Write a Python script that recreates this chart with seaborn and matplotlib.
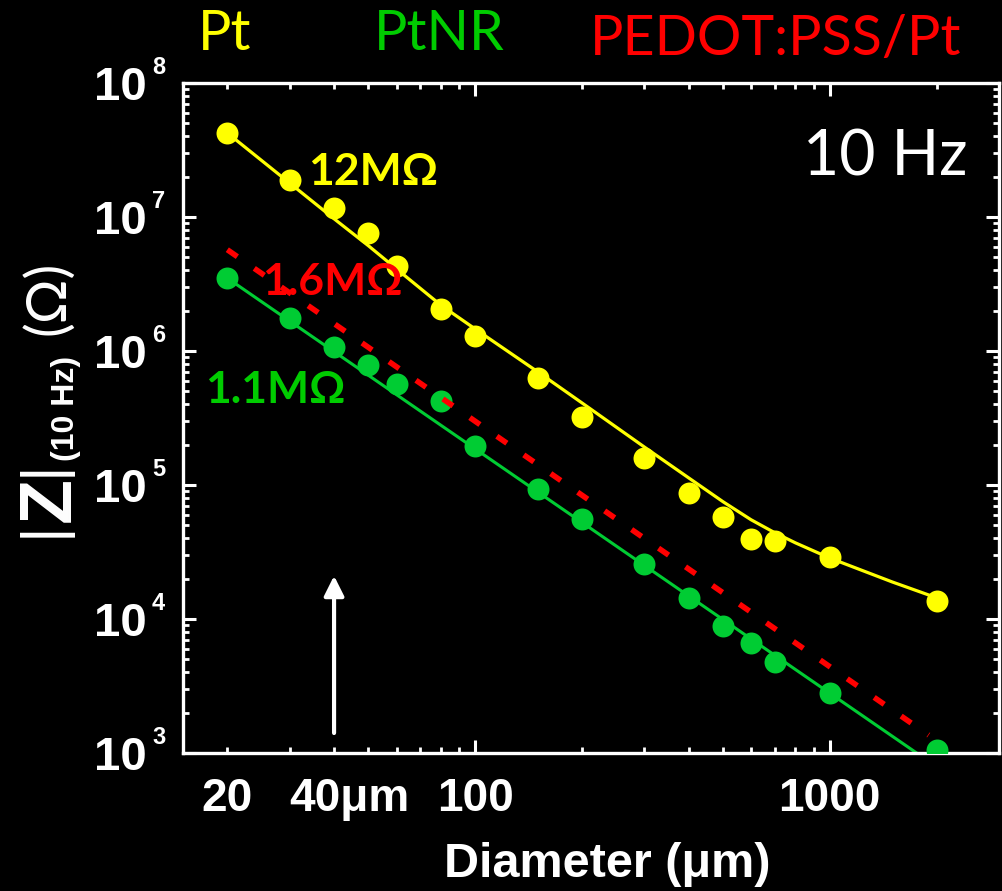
import matplotlib
matplotlib.use("Agg")
import matplotlib.pyplot as plt
import seaborn as sns
import pandas as pd
from matplotlib.ticker import LogLocator, FixedLocator, FuncFormatter, NullFormatter

# ---------------- data ----------------
diameter = [20, 30, 40, 50, 60, 80, 100, 150, 200, 300, 400, 500, 600, 700, 1000, 2000]
z_pt = [4.2e7, 1.9e7, 1.16e7, 7.6e6, 4.3e6, 2.06e6, 1.29e6, 6.3e5, 3.2e5,
        1.6e5, 8.7e4, 5.8e4, 3.95e4, 3.8e4, 2.9e4, 1.36e4]
z_ptnr = [3.5e6, 1.76e6, 1.07e6, 7.9e5, 5.7e5, 4.2e5, 1.95e5, 9.4e4, 5.6e4,
          2.57e4, 1.44e4, 8.9e3, 6.6e3, 4.8e3, 2.8e3, 1.05e3]

fit_pt_x = [20, 30, 40, 50, 60, 80, 100, 150, 200, 300, 400, 500, 600, 700, 800, 1000, 1500, 2000]
fit_pt_y = [4.24e7, 1.79e7, 9.7e6, 6.1e6, 4.1e6, 2.2e6, 1.46e6, 7.0e5, 4.1e5,
            1.92e5, 1.13e5, 7.5e4, 5.5e4, 4.4e4, 3.7e4, 2.85e4, 1.89e4, 1.44e4]
fit_ptnr_x = [20, 2000]
fit_ptnr_y = [3.5e6, 7.9e2]
fit_pedot_x = [20, 1900]
fit_pedot_y = [5.7e6, 1.36e3]

series_names = ["Pt", "PtNR", "PEDOT:PSS/Pt"]
fit_labels = ["12MΩ", "1.6MΩ", "1.1MΩ"]
x_major_ticks = [100, 1000]
x_major_labels = ["100", "1000"]
x_labelled_minor = {20: "20"}
y_exponents = [3, 4, 5, 6, 7, 8]

YELLOW = "#FFFF00"
GREEN = "#00CC33"
GREEN_TXT = "#00CC00"
RED = "#FF0000"
WHITE = "white"

# ---------------- style ----------------
sns.set_style("ticks")
plt.rcParams.update({
    "font.family": ["Liberation Sans", "DejaVu Sans"],
    "font.weight": "bold",
    "axes.facecolor": "black",
    "figure.facecolor": "black",
    "savefig.facecolor": "black",
    "axes.edgecolor": WHITE,
    "text.color": WHITE,
    "xtick.color": WHITE,
    "ytick.color": WHITE,
    "axes.grid": False,
})
CAL = ["Lato", "DejaVu Sans"]

W, H = 1002, 891
fig = plt.figure(figsize=(W / 100, H / 100), dpi=100)
L, R, T, B = 183, 999, 83, 753
ax = fig.add_axes([L / W, 1 - B / H, (R - L) / W, (B - T) / H])
ax.set_facecolor("black")
ax.set_xscale("log")
ax.set_yscale("log")

# ---------------- marks ----------------
sns.lineplot(x=fit_pt_x, y=fit_pt_y, ax=ax, color=YELLOW, lw=2.3, zorder=2)
sns.scatterplot(x=diameter, y=z_pt, ax=ax, color=YELLOW, s=250, linewidth=0, zorder=3)
sns.lineplot(x=fit_ptnr_x, y=fit_ptnr_y, ax=ax, color=GREEN, lw=2.2, zorder=2)
sns.scatterplot(x=diameter, y=z_ptnr, ax=ax, color=GREEN, s=250, linewidth=0, zorder=3)
sns.lineplot(x=fit_pedot_x, y=fit_pedot_y, ax=ax, color=RED, lw=4.0,
             linestyle=(0, (2.2, 3.7)), dash_capstyle="butt", zorder=4)

ax.set_xlim(15, 3000)
ax.set_ylim(1e3, 1e8)

# ---------------- axes & ticks ----------------
for sp in ax.spines.values():
    sp.set_visible(True)
    sp.set_color(WHITE)
    sp.set_linewidth(2.4)

ax.xaxis.set_major_locator(FixedLocator(x_major_ticks))
ax.xaxis.set_major_formatter(FuncFormatter(lambda v, p: x_major_labels[x_major_ticks.index(int(round(v)))]
                                           if int(round(v)) in x_major_ticks else ""))
ax.xaxis.set_minor_locator(LogLocator(base=10, subs=range(2, 10), numticks=20))
ax.xaxis.set_minor_formatter(FuncFormatter(lambda v, p: x_labelled_minor.get(int(round(v)), "")))
ax.yaxis.set_major_locator(LogLocator(base=10, numticks=12))
ax.yaxis.set_major_formatter(FuncFormatter(lambda v, p: "10"))
ax.yaxis.set_minor_locator(LogLocator(base=10, subs=range(2, 10), numticks=12))
ax.yaxis.set_minor_formatter(NullFormatter())

ax.tick_params(which="both", direction="in", top=True, right=True, colors=WHITE)
ax.tick_params(which="major", length=9.5, width=2.2)
ax.tick_params(which="minor", length=4.5, width=2.0)
ax.tick_params(axis="x", which="both", labelsize=33, pad=17)
ax.tick_params(axis="y", which="major", labelsize=34, pad=26)
for lab in ax.get_xticklabels(which="both") + ax.get_yticklabels():
    lab.set_fontweight("bold")

for n in y_exponents:
    ax.annotate(str(n), xy=(0, 10.0 ** n), xycoords=("axes fraction", "data"),
                xytext=(-22.3, 6.5), textcoords="offset points",
                ha="left", va="baseline", fontsize=17, fontweight="bold", color=WHITE)

# "40µm" marker under the axis and the arrow
ax.annotate("40μm", xy=(44.2, 0), xycoords=("data", "axes fraction"),
            xytext=(0, -17), textcoords="offset points", ha="center", va="top",
            fontsize=33, fontweight="bold", color=WHITE)
ax.annotate("", xy=(40, 2.1e4), xytext=(40, 1.41e3), xycoords="data",
            arrowprops=dict(arrowstyle="-|>,head_length=12,head_width=6",
                            mutation_scale=1, color=WHITE, lw=3,
                            shrinkA=0, shrinkB=0), zorder=5)

# ---------------- in-plot texts ----------------
def axfrac(px, py):
    return (px - L) / (R - L), (B - py) / (B - T)

ax.text(*axfrac(308, 185), fit_labels[0], transform=ax.transAxes, ha="left", va="baseline",
        fontsize=32, fontweight="bold", family=CAL, color=YELLOW, zorder=6)
ax.text(*axfrac(262, 295), fit_labels[1], transform=ax.transAxes, ha="left", va="baseline",
        fontsize=32, fontweight="bold", family=CAL, color=RED, zorder=3.5)
ax.text(*axfrac(205, 403), fit_labels[2], transform=ax.transAxes, ha="left", va="baseline",
        fontsize=32, fontweight="bold", family=CAL, color=GREEN_TXT, zorder=6)
ax.text(*axfrac(803, 175), "10 Hz", transform=ax.transAxes, ha="left", va="baseline",
        fontsize=45, fontweight="normal", family=CAL, color=WHITE, zorder=6)

# ---------------- series names on top ----------------
fig.text(198 / W, 1 - 50 / H, series_names[0], ha="left", va="baseline",
         fontsize=40, fontweight="normal", family=CAL, color=YELLOW)
fig.text(374 / W, 1 - 50 / H, series_names[1], ha="left", va="baseline",
         fontsize=40, fontweight="normal", family=CAL, color=GREEN_TXT)
fig.text(590 / W, 1 - 55 / H, series_names[2], ha="left", va="baseline",
         fontsize=40, fontweight="normal", family=CAL, color=RED)

# ---------------- axis labels ----------------
fig.text(607 / W, 1 - 877 / H, "Diameter (μm)", ha="center", va="baseline",
         fontsize=35, fontweight="bold", color=WHITE)

def ylab(px_base, py_center, s, **kw):
    fig.text(px_base / W, 1 - py_center / H, s, rotation=90, rotation_mode="anchor",
             ha="center", va="baseline", color=WHITE, **kw)

ylab(59, 468.5, "|", fontsize=43, fontweight="normal")
ylab(70, 499, "Z", fontsize=53, fontweight="bold")
ylab(59, 529.5, "|", fontsize=43, fontweight="normal")
ylab(74, 408, "(10 Hz)", fontsize=23, fontweight="bold")
ylab(64, 298, "(Ω)", fontsize=40, fontweight="normal", family=CAL)

fig.savefig("out.png", dpi=100, facecolor="black")
